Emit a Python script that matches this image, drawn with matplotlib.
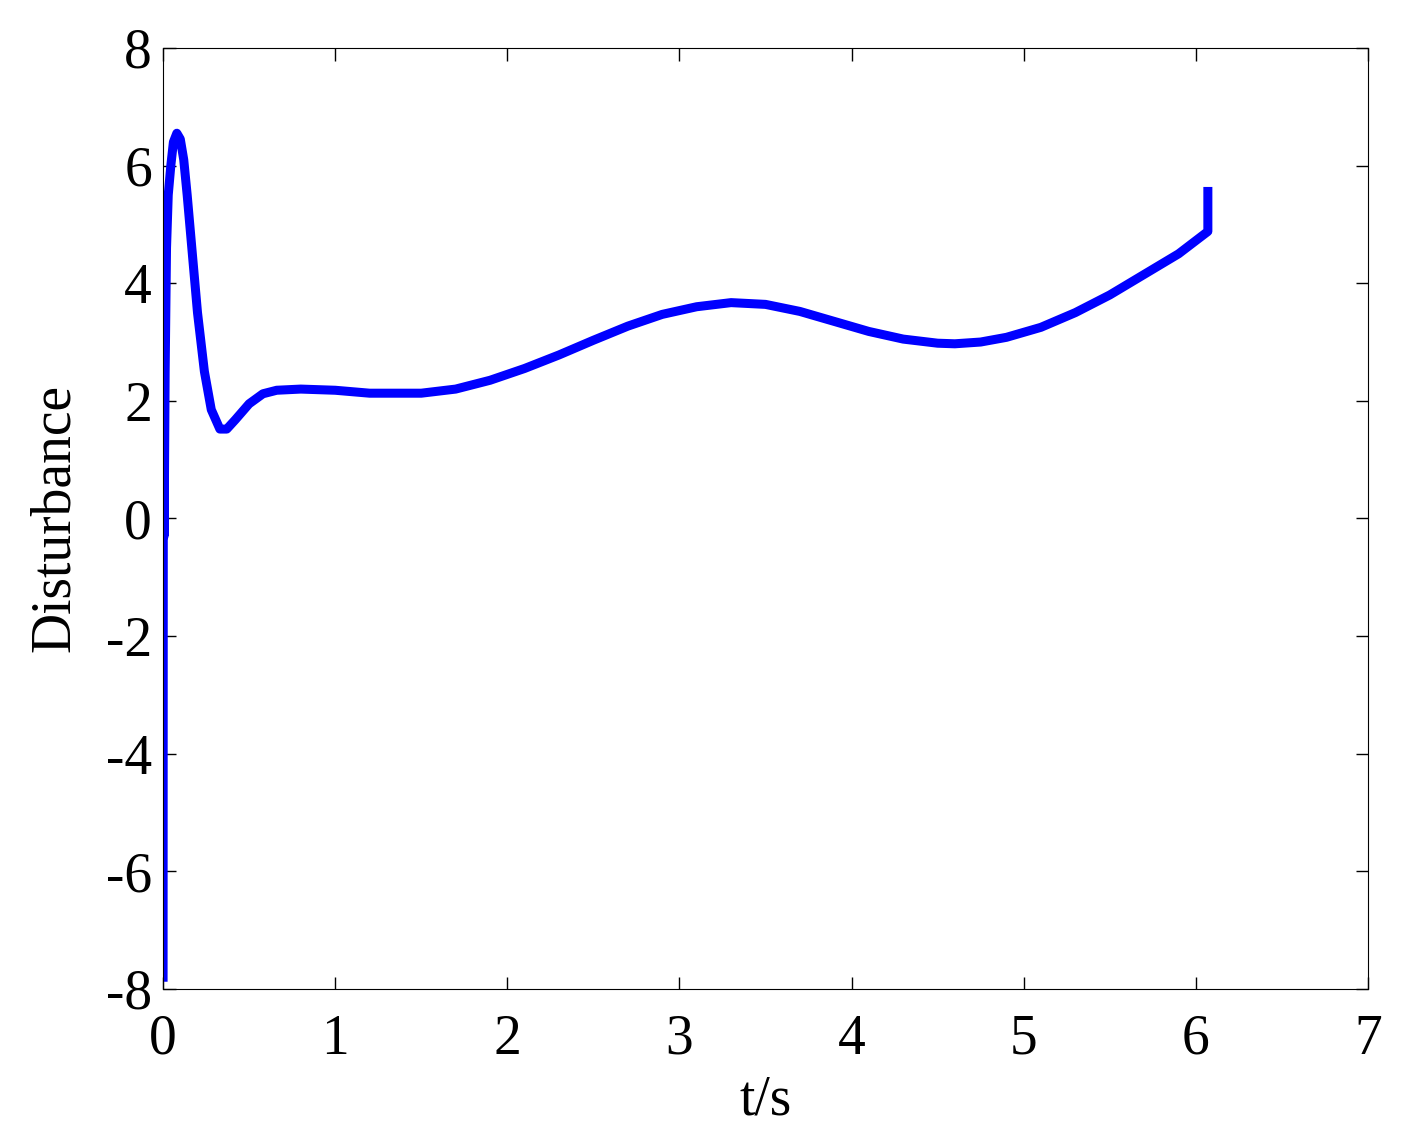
import numpy as np
from matplotlib import pyplot as plt

# disturbance estimate
t = [0.0, 0.002, 0.006, 0.012, 0.02, 0.03, 0.045, 0.06, 0.08, 0.1, 0.12, 0.14,
     0.17, 0.2, 0.24, 0.28, 0.33, 0.37, 0.42, 0.5, 0.58, 0.66, 0.8, 1.0,
     1.2, 1.5, 1.7, 1.9, 2.1, 2.3, 2.5, 2.7, 2.9, 3.1, 3.3, 3.5, 3.7,
     3.9, 4.1, 4.3, 4.5, 4.6, 4.75, 4.9, 5.1, 5.3, 5.5, 5.7, 5.9, 6.07, 6.07]
d = [-7.8, 5.3, -0.3, 2.5, 4.6, 5.5, 6.0, 6.4, 6.55, 6.45, 6.1, 5.5,
     4.5, 3.5, 2.5, 1.85, 1.52, 1.52, 1.68, 1.95, 2.12, 2.18, 2.2, 2.18,
     2.13, 2.13, 2.2, 2.35, 2.55, 2.78, 3.03, 3.27, 3.47, 3.6, 3.67, 3.64, 3.52,
     3.35, 3.18, 3.05, 2.98, 2.97, 3.0, 3.08, 3.25, 3.5, 3.8, 4.15, 4.5, 4.88, 5.56]

plt.rcParams['font.family'] = ['Liberation Serif', 'DejaVu Serif']
plt.rcParams['axes.unicode_minus'] = False

fig = plt.figure(figsize=(14.23, 11.39), dpi=100)
ax = fig.add_axes([0.1146, 0.1317, 0.8467, 0.8262])
ax.plot(t, d, color='#0000ff', lw=6.5, solid_joinstyle='round')
ax.set_xlim(0, 7)
ax.set_ylim(-8, 8)
ax.set_xticks(range(0, 8))
ax.set_yticks(range(-8, 9, 2))
ax.tick_params(direction='in', top=True, right=True, length=9, width=1,
               labelsize=40)
ax.tick_params(axis='x', pad=18)
ax.tick_params(axis='y', pad=8)
ax.set_xlabel('t/s', fontsize=40, labelpad=6)
ax.set_ylabel('Disturbance', fontsize=40, labelpad=18)
fig.savefig('out.png', dpi=100)
